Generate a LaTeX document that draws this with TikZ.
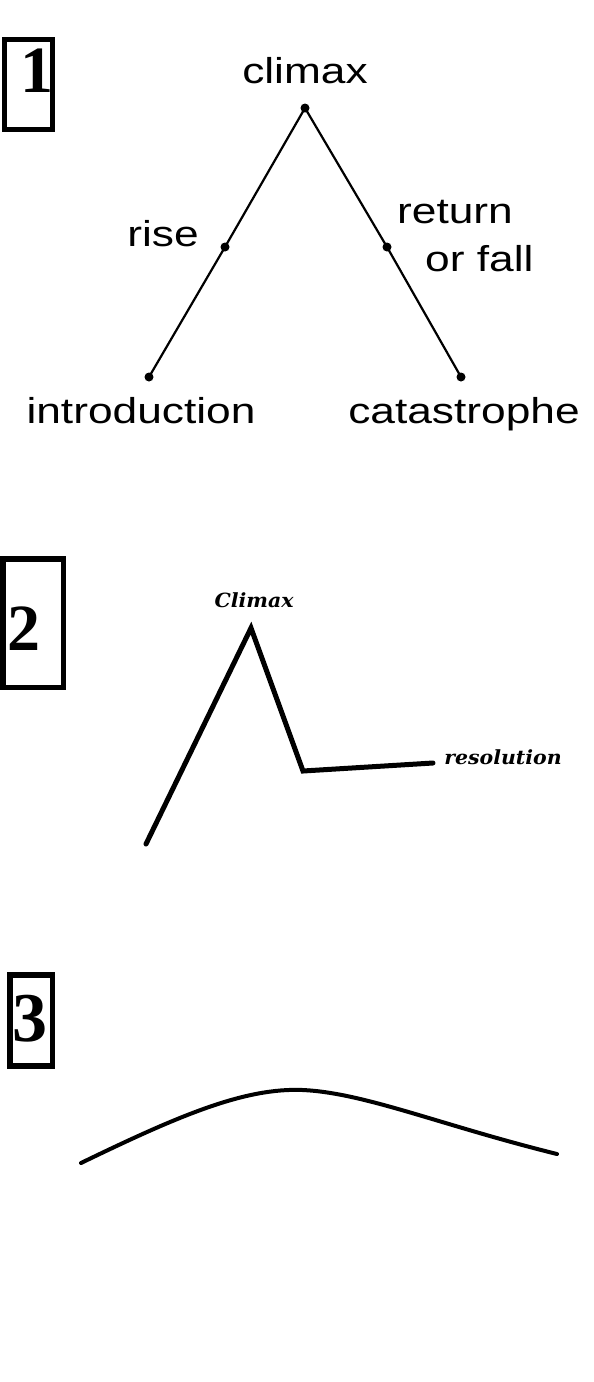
\documentclass[tikz,border=0pt]{standalone}
\usepackage{fontspec}
\setmainfont{Liberation Serif}
\newfontfamily\labfont[FakeStretch=1.23]{Liberation Sans}
\newfontfamily\itfont[FakeStretch=1.05]{DejaVu Serif}
\newfontfamily\numfont{Liberation Serif}
\begin{document}
\begin{tikzpicture}[x=1pt,y=-1pt,
  dot/.style={circle,fill=black,inner sep=0pt,minimum size=9pt},
  lab/.style={inner sep=0pt,anchor=base,font=\labfont\fontsize{36}{40}\selectfont},
  numbox/.style={draw=black,line width=5.5pt},
  num/.style={inner sep=0pt,anchor=base,font=\numfont\bfseries\fontsize{66}{70}\selectfont},
  itlab/.style={inner sep=0pt,anchor=base,font=\itfont\bfseries\itshape\fontsize{19.5}{22}\selectfont},
  thin/.style={line width=2.2pt},
  thick2/.style={line width=5pt,line cap=round,line join=miter},
  thick3/.style={line width=4pt,line cap=round}]
\useasboundingbox[fill=white] (0,0) rectangle (594,1382);

% ---- Diagram 1 ----
\draw[numbox] (4.5,39.5) rectangle (52.5,129.5);
\node[num] (n1) at (36.5,92) {1};
\node[dot] (c) at (305,108) {};
\node[dot] (r) at (225,247) {};
\node[dot] (i) at (149,377) {};
\node[dot] (f) at (387,247) {};
\node[dot] (k) at (461,377) {};
\draw[thin] (i.center) -- (r.center) -- (c.center) -- (f.center) -- (k.center);
\node[lab] (tc) at (305,83) {climax};
\node[lab] (tr) at (163,246) {rise};
\node[lab,anchor=base west] (tf1) at (397,223) {return};
\node[lab,anchor=base west] (tf2) at (425,271) {or fall};
\node[lab] (ti) at (141,423) {introduction};
\node[lab] (tk) at (464,423) {catastrophe};

% ---- Diagram 2 ----
\draw[numbox] (2.75,558.75) rectangle (63.25,687.25);
\node[num] (n2) at (24.5,650) {2};
\coordinate (a0) at (146,844);
\coordinate (a1) at (251,628);
\coordinate (a2) at (303,771);
\coordinate (a3) at (433,763);
\draw[thick2] (a0) -- (a1) -- (a2) -- (a3);
\node[itlab] (tcl) at (254,607) {Climax};
\node[itlab] (tres) at (503,764) {resolution};

% ---- Diagram 3 ----
\draw[numbox] (10,974.75) rectangle (52.25,1066);
\node[num,font=\numfont\bfseries\fontsize{70}{74}\selectfont] (n3) at (30,1041) {3};
\coordinate (b0) at (81,1163);
\coordinate (b1) at (303,1090);
\coordinate (b2) at (557,1154);
\draw[thick3] (b0) .. controls (180,1115) and (245,1087.5) .. (b1)
  .. controls (365,1093) and (440,1125) .. (b2);
\end{tikzpicture}
\end{document}
